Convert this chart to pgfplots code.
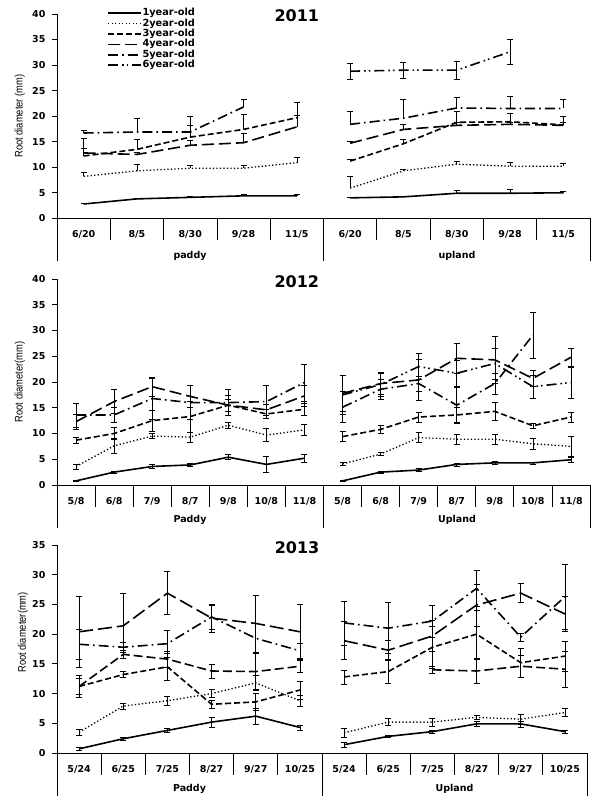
\documentclass[border=0pt]{standalone}
\usepackage{pgfplots}
\pgfplotsset{compat=1.18}
\usepackage{fontspec}
\setmainfont{DejaVu Sans}
\newfontfamily\labfont{Liberation Sans}[FakeStretch=0.85]
\tikzset{
 s1/.style={black,line width=1.6pt,solid},
 s2/.style={black,line width=1.3pt,dash pattern=on 1.3pt off 2.2pt},
 s3/.style={black,line width=1.6pt,dash pattern=on 6pt off 3pt},
 s4/.style={black,line width=1.6pt,dash pattern=on 12pt off 5pt},
 s4b/.style={black,line width=1.6pt,dash pattern=on 9pt off 4pt},
 s5/.style={black,line width=1.6pt,dash pattern=on 10pt off 4pt on 1.6pt off 4pt},
 s6/.style={black,line width=1.6pt,dash pattern=on 10pt off 4pt on 1.6pt off 3pt on 1.6pt off 4pt},
 s6b/.style={black,line width=1.6pt,dash pattern=on 14pt off 5pt},
}
\pgfplotsset{
 eb/.style={forget plot, mark=none, error bars/y dir=both, error bars/y explicit,
   error bars/error bar style={solid,black,line width=0.6pt},
   error bars/error mark options={rotate=90,mark size=3pt,solid,black,line width=0.6pt}},
 ebp/.style={forget plot, mark=none, error bars/y dir=plus, error bars/y explicit,
   error bars/error bar style={solid,black,line width=0.6pt},
   error bars/error mark options={rotate=90,mark size=3pt,solid,black,line width=0.6pt}},
 panel/.style={
   scale only axis, clip=false,
   axis lines*=left,
   axis line style={black,line width=0.8pt},
   xmin=-0.5, ymin=0,
   tick align=outside, major tick length=5pt,
   xtick style={draw=none},
   ytick style={black,line width=0.8pt},
   tick label style={font=\bfseries\fontsize{9.5}{10}\selectfont},
   /pgf/number format/assume math mode=true,
   yticklabel style={xshift=-3pt},
   xticklabel style={anchor=base, yshift=-14pt},
   ylabel style={font=\labfont\fontsize{11}{12}\selectfont, at={(axis description cs:-0.07,0.5)}, anchor=center},
   title style={font=\bfseries\fontsize{16}{16}\selectfont, anchor=center},
 },
}
\begin{document}
\begin{tikzpicture}[x=1pt,y=1pt]
\useasboundingbox (0,0) rectangle (608,-808);
% ---------------- 2011 ----------------
\begin{axis}[panel,
  at={(57pt,-218.3pt)}, anchor=south west,
  width=533pt, height=204.3pt,
  xmax=9.5, ymax=40, ytick={0,5,...,40},
  xtick={0,...,9},
  xticklabels={6/20,8/5,8/30,9/28,11/5,6/20,8/5,8/30,9/28,11/5},
  ylabel={Root diameter (mm)},
  title={2011}, title style={at={(axis description cs:0.45,0.96)}},
  legend style={at={(axis description cs:0.094,1.03)}, anchor=north west, draw=none, fill=none,
    inner sep=0pt, row sep=0pt, font=\bfseries\fontsize{9.8}{9.8}\selectfont,
    cells={anchor=west}, nodes={inner sep=0.6pt, text height=7pt, text depth=2.2pt}},
  legend image code/.code={\draw[#1] (0pt,0pt) -- (33pt,0pt);},
]
\addlegendimage{s1}\addlegendentry{1year-old}
\addlegendimage{s2}\addlegendentry{2year-old}
\addlegendimage{s3}\addlegendentry{3year-old}
\addlegendimage{s4}\addlegendentry{4year-old}
\addlegendimage{s5}\addlegendentry{5year-old}
\addlegendimage{s6}\addlegendentry{6year-old}
% 1 year
\addplot[s1,ebp] coordinates {(0,2.8)+-(0,0.2) (1,3.8)+-(0,0.2) (2,4.1)+-(0,0.2) (3,4.4)+-(0,0.3) (4,4.4)+-(0,0.3)};
\addplot[s1,ebp] coordinates {(5,4.0)+-(0,0.2) (6,4.2)+-(0,0.2) (7,4.9)+-(0,0.5) (8,4.9)+-(0,0.8) (9,5.0)+-(0,0.2)};
% 2 year
\addplot[s2,ebp] coordinates {(0,8.2)+-(0,0.8) (1,9.3)+-(0,1.2) (2,9.8)+-(0,0.5) (3,9.8)+-(0,0.5) (4,10.9)+-(0,1.0)};
\addplot[s2,ebp] coordinates {(5,5.9)+-(0,2.3) (6,9.3)+-(0,0.3) (7,10.6)+-(0,0.6) (8,10.2)+-(0,0.8) (9,10.2)+-(0,0.6)};
% 3 year
\addplot[s3,ebp] coordinates {(0,12.2)+-(0,1.5) (1,13.5)+-(0,2.0) (2,15.9)+-(0,2.4) (3,17.4)+-(0,2.9) (4,19.7)+-(0,3.1)};
\addplot[s3,ebp] coordinates {(5,11.2)+-(0,0.4) (6,14.6)+-(0,0.8) (7,18.8)+-(0,2.1) (8,18.9)+-(0,1.7) (9,18.3)+-(0,0.5)};
% 4 year
\addplot[s4,ebp] coordinates {(0,12.8)+-(0,2.9) (1,12.5)+-(0,0.5) (2,14.3)+-(0,1.0) (3,14.8)+-(0,1.9) (4,17.9)+-(0,2.2)};
\addplot[s4,ebp] coordinates {(5,14.7)+-(0,0.3) (6,17.4)+-(0,1.0) (7,18.2)+-(0,0.5) (8,18.4)+-(0,0.4) (9,18.2)+-(0,1.7)};
% 5 year
\addplot[s5,ebp] coordinates {(0,16.7)+-(0,0.6) (1,16.9)+-(0,2.7) (2,16.9)+-(0,3.0) (3,21.8)+-(0,1.5)};
\addplot[s5,ebp] coordinates {(5,18.4)+-(0,2.5) (6,19.6)+-(0,3.7) (7,21.6)+-(0,2.1) (8,21.5)+-(0,2.3) (9,21.5)+-(0,1.8)};
% 6 year
\addplot[s6,eb] coordinates {(5,28.8)+-(0,1.6) (6,29.0)+-(0,1.6) (7,29.0)+-(0,1.7) (8,32.6)+-(0,2.4)};
\end{axis}
\foreach \k in {1,2,3,4,6,7,8,9} \draw[line width=0.8pt] ({57+53.3*\k},-218.3) -- ++(0,-22);
\foreach \xx in {57,323.5,590} \draw[line width=0.8pt] (\xx,-218.3) -- (\xx,-261);
\node[font=\bfseries\fontsize{9.5}{10}\selectfont] at (190,-256) {paddy};
\node[font=\bfseries\fontsize{9.5}{10}\selectfont] at (457,-256) {upland};
% ---------------- 2012 ----------------
\begin{axis}[panel,
  at={(57pt,-485pt)}, anchor=south west,
  width=533pt, height=206pt,
  xmax=13.5, ymax=40, ytick={0,5,...,40},
  xtick={0,...,13},
  xticklabels={5/8,6/8,7/9,8/7,9/8,10/8,11/8,5/8,6/8,7/9,8/7,9/8,10/8,11/8},
  ylabel={Root diameter(mm)},
  title={2012}, title style={at={(axis description cs:0.45,0.956)}},
]
\addplot[s1,eb] coordinates {(0,0.8)+-(0,0.1) (1,2.5)+-(0,0.2) (2,3.6)+-(0,0.4) (3,3.9)+-(0,0.3) (4,5.4)+-(0,0.5) (5,4.0)+-(0,1.5) (6,5.2)+-(0,0.8)};
\addplot[s1,eb] coordinates {(7,0.8)+-(0,0.1) (8,2.5)+-(0,0.2) (9,2.9)+-(0,0.3) (10,4.0)+-(0,0.3) (11,4.3)+-(0,0.3) (12,4.3)+-(0,0.2) (13,4.9)+-(0,0.4)};
\addplot[s2,eb] coordinates {(0,3.6)+-(0,0.5) (1,7.6)+-(0,1.4) (2,9.5)+-(0,0.5) (3,9.3)+-(0,1.0) (4,11.6)+-(0,0.6) (5,9.7)+-(0,1.3) (6,10.7)+-(0,1.1)};
\addplot[s2,eb] coordinates {(7,4.1)+-(0,0.3) (8,6.0)+-(0,0.3) (9,9.2)+-(0,1.0) (10,8.9)+-(0,0.9) (11,8.9)+-(0,0.9) (12,8.0)+-(0,1.0) (13,7.5)+-(0,2.0)};
\addplot[s3,eb] coordinates {(0,8.7)+-(0,0.6) (1,10.0)+-(0,1.2) (2,12.5)+-(0,2.0) (3,13.3)+-(0,3.0) (4,15.5)+-(0,1.2) (5,13.8)+-(0,0.9) (6,14.7)+-(0,1.2)};
\addplot[s3,eb] coordinates {(7,9.4)+-(0,1.0) (8,10.8)+-(0,0.8) (9,13.2)+-(0,1.0) (10,13.6)+-(0,1.5) (11,14.3)+-(0,1.8) (12,11.5)+-(0,0.4) (13,13.2)+-(0,1.0)};
\addplot[s4,eb] coordinates {(0,12.3)+-(0,1.5) (1,16.2)+-(0,2.3) (2,19.1)+-(0,1.9) (3,17.2)+-(0,2.2) (4,15.5)+-(0,2.0) (5,14.6)+-(0,1.0) (6,17.3)+-(0,2.0)};
\addplot[s4,eb] coordinates {(7,17.8)+-(0,3.5) (8,19.7)+-(0,2.0) (9,20.4)+-(0,4.0) (10,24.6)+-(0,3.0) (11,24.3)+-(0,4.5) (12,20.7)+-(0,1.5) (13,24.8)+-(0,1.8)};
\addplot[s5,eb] coordinates {(0,13.6)+-(0,2.3) (1,13.6)+-(0,1.5) (2,16.8)+-(0,4.0) (3,16.0)+-(0,3.3) (4,16.0)+-(0,2.5) (5,16.2)+-(0,3.2) (6,19.9)+-(0,3.6)};
\addplot[s5,eb] coordinates {(7,15.1)+-(0,3.0) (8,18.6)+-(0,2.0) (9,19.7)+-(0,1.5) (10,15.5)+-(0,3.5) (11,19.7)+-(0,2.0) (12,29.1)+-(0,4.5)};
\addplot[s6,eb] coordinates {(7,17.5)+-(0,3.8) (8,19.5)+-(0,2.3) (9,23.0)+-(0,2.5) (10,21.7)+-(0,2.5) (11,23.6)+-(0,3.0) (12,19.1)+-(0,2.2) (13,19.9)+-(0,3.0)};
\end{axis}
\foreach \k in {1,2,3,4,5,6,8,9,10,11,12,13} \draw[line width=0.8pt] ({57+38.07*\k},-485) -- ++(0,-22);
\foreach \xx in {57,323.5,590} \draw[line width=0.8pt] (\xx,-485) -- (\xx,-528);
\node[font=\bfseries\fontsize{9.5}{10}\selectfont] at (190,-520) {Paddy};
\node[font=\bfseries\fontsize{9.5}{10}\selectfont] at (457,-520) {Upland};
% ---------------- 2013 ----------------
\begin{axis}[panel,
  at={(57pt,-753pt)}, anchor=south west,
  width=530pt, height=208pt,
  xmax=11.5, ymax=35, ytick={0,5,...,35},
  xtick={0,...,11},
  xticklabels={5/24,6/25,7/25,8/27,9/27,10/25,5/24,6/25,7/25,8/27,9/27,10/25},
  ylabel={Root diameter(mm)}, ylabel style={at={(axis description cs:-0.064,0.58)}},
  title={2013}, title style={at={(axis description cs:0.453,0.96)}},
]
\addplot[s1,eb] coordinates {(0,0.7)+-(0,0.2) (1,2.4)+-(0,0.2) (2,3.8)+-(0,0.3) (3,5.2)+-(0,0.8) (4,6.2)+-(0,1.4) (5,4.3)+-(0,0.4)};
\addplot[s1,eb] coordinates {(6,1.4)+-(0,0.4) (7,2.8)+-(0,0.2) (8,3.6)+-(0,0.3) (9,4.9)+-(0,0.4) (10,4.9)+-(0,0.5) (11,3.6)+-(0,0.2)};
\addplot[s2,eb] coordinates {(0,3.5)+-(0,0.5) (1,7.9)+-(0,0.5) (2,8.8)+-(0,0.7) (3,10.0)+-(0,0.7) (4,11.8)+-(0,1.3) (5,8.8)+-(0,0.9)};
\addplot[s2,eb] coordinates {(6,3.4)+-(0,0.8) (7,5.2)+-(0,0.6) (8,5.2)+-(0,0.7) (9,6.0)+-(0,0.4) (10,5.7)+-(0,0.8) (11,6.8)+-(0,0.7)};
\addplot[s3,eb] coordinates {(0,11.2)+-(0,1.9) (1,13.2)+-(0,0.5) (2,14.5)+-(0,2.3) (3,8.2)+-(0,0.7) (4,8.6)+-(0,1.4) (5,10.6)+-(0,1.5)};
\addplot[s3,eb] coordinates {(6,12.8)+-(0,1.2) (7,13.7)+-(0,1.9) (8,17.8)+-(0,3.5) (9,20.0)+-(0,4.0) (10,15.2)+-(0,2.5) (11,16.3)+-(0,2.5)};
\addplot[s4b,eb] coordinates {(0,11.2)+-(0,1.3) (1,16.6)+-(0,0.6) (2,15.8)+-(0,1.3) (3,13.8)+-(0,1.2) (4,13.7)+-(0,3.0) (5,14.6)+-(0,1.0)};
\addplot[s4b,eb] coordinates {(8,14.0)+-(0,0.6) (9,13.8)+-(0,2.0) (10,14.6)+-(0,1.9) (11,14.1)+-(0,3.0)};
\addplot[s5,eb] coordinates {(0,18.3)+-(0,2.5) (1,17.8)+-(0,0.9) (2,18.4)+-(0,2.3) (3,22.9)+-(0,2.0) (4,19.3)+-(0,2.5) (5,17.2)+-(0,1.2)};
\addplot[s5,eb] coordinates {(6,21.9)+-(0,3.7) (7,21.0)+-(0,4.3) (8,22.2)+-(0,2.7) (9,27.7)+-(0,3.0) (10,19.5)+-(0,0.7) (11,26.3)+-(0,5.5)};
\addplot[s6b,eb] coordinates {(0,20.4)+-(0,5.9) (1,21.4)+-(0,5.4) (2,26.9)+-(0,3.6) (3,22.7)+-(0,2.4) (4,21.8)+-(0,4.8) (5,20.4)+-(0,4.7)};
\addplot[s6b,eb] coordinates {(6,18.9)+-(0,3.2) (7,17.3)+-(0,1.6) (8,19.7)+-(0,2.6) (9,24.9)+-(0,3.5) (10,26.9)+-(0,1.6) (11,23.4)+-(0,3.0)};
\end{axis}
\foreach \k in {1,2,3,4,5,7,8,9,10,11} \draw[line width=0.8pt] ({57+44.17*\k},-753) -- ++(0,-22);
\foreach \xx in {57,322,587} \draw[line width=0.8pt] (\xx,-753) -- (\xx,-796);
\node[font=\bfseries\fontsize{9.5}{10}\selectfont] at (189.5,-789) {Paddy};
\node[font=\bfseries\fontsize{9.5}{10}\selectfont] at (454.5,-789) {Upland};
\end{tikzpicture}
\end{document}
